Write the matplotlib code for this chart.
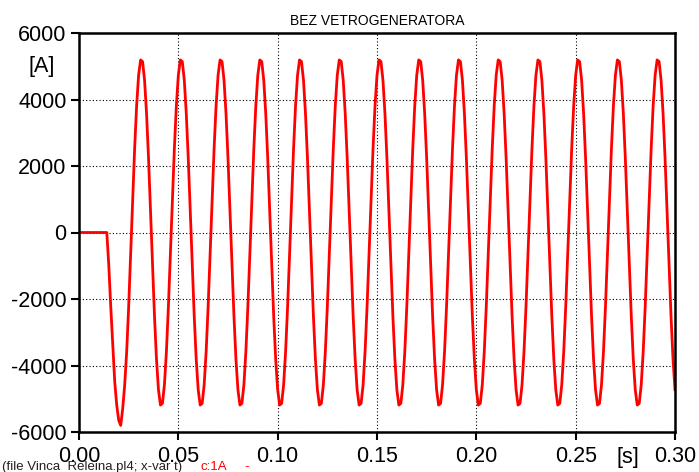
import numpy as np
import matplotlib
matplotlib.use("Agg")
import matplotlib.pyplot as plt

plt.rcParams['font.family'] = ['Liberation Sans', 'DejaVu Sans']

time_step = 0.001  # s
current_A = [
    # 0.000 - 0.014
    0, 0, 0, 0, 0, 0, 0, 0, 0, 0, 0, 0, 0, 0, 0,
    # 0.015 - 0.030 (switching transient)
    -1000, -2250, -3400, -4500, -5200, -5650, -5800, -5300,
    -4580, -3580, -2230, -660, 980, 2520, 3810, 4730,
    # 0.031 - 0.050
    5190, 5140, 4580, 3580, 2230, 660, -980, -2520, -3810, -4730,
    -5190, -5140, -4580, -3580, -2230, -660, 980, 2520, 3810, 4730,
    # 0.051 - 0.070
    5190, 5140, 4580, 3580, 2230, 660, -980, -2520, -3810, -4730,
    -5190, -5140, -4580, -3580, -2230, -660, 980, 2520, 3810, 4730,
    # 0.071 - 0.090
    5190, 5140, 4580, 3580, 2230, 660, -980, -2520, -3810, -4730,
    -5190, -5140, -4580, -3580, -2230, -660, 980, 2520, 3810, 4730,
    # 0.091 - 0.110
    5190, 5140, 4580, 3580, 2230, 660, -980, -2520, -3810, -4730,
    -5190, -5140, -4580, -3580, -2230, -660, 980, 2520, 3810, 4730,
    # 0.111 - 0.130
    5190, 5140, 4580, 3580, 2230, 660, -980, -2520, -3810, -4730,
    -5190, -5140, -4580, -3580, -2230, -660, 980, 2520, 3810, 4730,
    # 0.131 - 0.150
    5190, 5140, 4580, 3580, 2230, 660, -980, -2520, -3810, -4730,
    -5190, -5140, -4580, -3580, -2230, -660, 980, 2520, 3810, 4730,
    # 0.151 - 0.170
    5190, 5140, 4580, 3580, 2230, 660, -980, -2520, -3810, -4730,
    -5190, -5140, -4580, -3580, -2230, -660, 980, 2520, 3810, 4730,
    # 0.171 - 0.190
    5190, 5140, 4580, 3580, 2230, 660, -980, -2520, -3810, -4730,
    -5190, -5140, -4580, -3580, -2230, -660, 980, 2520, 3810, 4730,
    # 0.191 - 0.210
    5190, 5140, 4580, 3580, 2230, 660, -980, -2520, -3810, -4730,
    -5190, -5140, -4580, -3580, -2230, -660, 980, 2520, 3810, 4730,
    # 0.211 - 0.230
    5190, 5140, 4580, 3580, 2230, 660, -980, -2520, -3810, -4730,
    -5190, -5140, -4580, -3580, -2230, -660, 980, 2520, 3810, 4730,
    # 0.231 - 0.250
    5190, 5140, 4580, 3580, 2230, 660, -980, -2520, -3810, -4730,
    -5190, -5140, -4580, -3580, -2230, -660, 980, 2520, 3810, 4730,
    # 0.251 - 0.270
    5190, 5140, 4580, 3580, 2230, 660, -980, -2520, -3810, -4730,
    -5190, -5140, -4580, -3580, -2230, -660, 980, 2520, 3810, 4730,
    # 0.271 - 0.290
    5190, 5140, 4580, 3580, 2230, 660, -980, -2520, -3810, -4730,
    -5190, -5140, -4580, -3580, -2230, -660, 980, 2520, 3810, 4730,
    # 0.291 - 0.300
    5190, 5140, 4580, 3580, 2230, 660, -980, -2520, -3810, -4730,
]
time_s = np.arange(len(current_A)) * time_step

x_ticks = [0.00, 0.05, 0.10, 0.15, 0.20, 0.25, 0.30]
x_tick_labels = ["0.00", "0.05", "0.10", "0.15", "0.20", "0.25", "0.30"]
y_ticks = [-6000, -4000, -2000, 0, 2000, 4000, 6000]
y_tick_labels = ["-6000", "-4000", "-2000", "0", "2000", "4000", "6000"]

title = "BEZ VETROGENERATORA"
footer_main = "(file Vinca_Releina.pl4; x-var t)"
footer_var = "c:1A"

# ---- figure ----
fig = plt.figure(figsize=(6.99, 4.72), dpi=100)
ax = fig.add_axes([79 / 699, 1 - 432 / 472, (675 - 79) / 699, (432 - 33) / 472])

ax.plot(time_s, current_A, color="#ff0000", lw=2.0, solid_joinstyle="round")

ax.set_xlim(0, 0.30)
ax.set_ylim(-6000, 6000)
ax.set_xticks(x_ticks)
ax.set_xticklabels(x_tick_labels)
ax.set_yticks(y_ticks)
ax.set_yticklabels(y_tick_labels)
ax.tick_params(axis="both", direction="out", length=6, width=1.5,
               labelsize=15.5, colors="black")
ax.tick_params(axis="x", pad=4)
ax.tick_params(axis="y", pad=3)

ax.grid(True, color="black", linestyle=(0, (1, 2)), linewidth=0.8)
for s in ax.spines.values():
    s.set_linewidth(1.8)
    s.set_color("black")

ax.set_title(title, fontsize=10, pad=6)

# unit labels
ax.text(-0.012, 5000, "[A]", fontsize=15.5, ha="right", va="center",
        transform=ax.transData, clip_on=False)
fig.text(628 / 699, 1 - 457 / 472, "[s]", fontsize=15.5, ha="center", va="center")

# footer
fy = 2 / 472
fig.text(2 / 699, fy, footer_main, fontsize=9.5, ha="left", va="baseline",
         color="#202020")
fig.text(200 / 699, fy, footer_var, fontsize=9.5, ha="left", va="baseline",
         color="#ff0000")
fig.text(244 / 699, fy, "-", fontsize=9.5, ha="left", va="baseline",
         color="#ff0000")

fig.savefig("out.png", dpi=100)
